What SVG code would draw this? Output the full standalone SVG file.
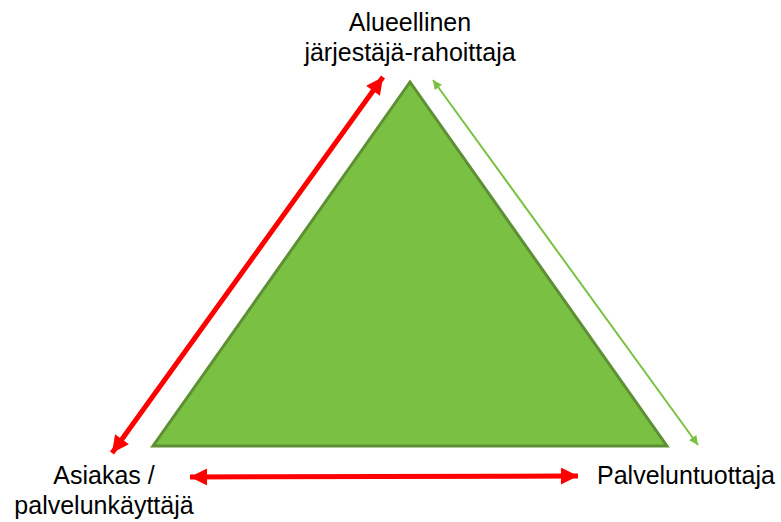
<svg xmlns="http://www.w3.org/2000/svg" width="781" height="522" viewBox="0 0 781 522">
<style>
text{font-family:"Liberation Sans",Arial,sans-serif;font-size:25px;fill:#000}
.red{stroke:#FF0000;stroke-width:5;fill:none}
.grn{stroke:#7AC143;stroke-width:2;fill:none}
</style>
<defs>
<marker id="ra" viewBox="0 0 10 10" refX="10" refY="5" markerUnits="userSpaceOnUse" markerWidth="20" markerHeight="17" orient="auto-start-reverse"><path d="M0,0L10,5L0,10z" fill="#FF0000"/></marker>
<marker id="ga" viewBox="0 0 10 10" refX="10" refY="5" markerUnits="userSpaceOnUse" markerWidth="11" markerHeight="9" orient="auto-start-reverse"><path d="M0,0L10,5L0,10z" fill="#7AC143"/></marker>
</defs>
<g id="triangle"><polygon points="410,82 153,446 667,446" fill="#7AC143" stroke="#5E8F34" stroke-width="3" stroke-linejoin="miter"/></g>
<g id="connectors">
<line class="red" x1="112" y1="453" x2="383" y2="77" marker-start="url(#ra)" marker-end="url(#ra)"/>
<line class="red" x1="190" y1="477" x2="578" y2="476" marker-start="url(#ra)" marker-end="url(#ra)"/>
<line class="grn" x1="433" y1="80" x2="698" y2="445" marker-start="url(#ga)" marker-end="url(#ga)"/>
</g>
<g id="top"><text x="410" y="31" text-anchor="middle">Alueellinen</text><text x="410" y="61" text-anchor="middle">järjestäjä-rahoittaja</text></g>
<g id="left"><text x="104" y="484" text-anchor="middle">Asiakas /</text><text x="104" y="514" text-anchor="middle">palvelunkäyttäjä</text></g>
<g id="right"><text x="597" y="484">Palveluntuottaja</text></g>
</svg>
